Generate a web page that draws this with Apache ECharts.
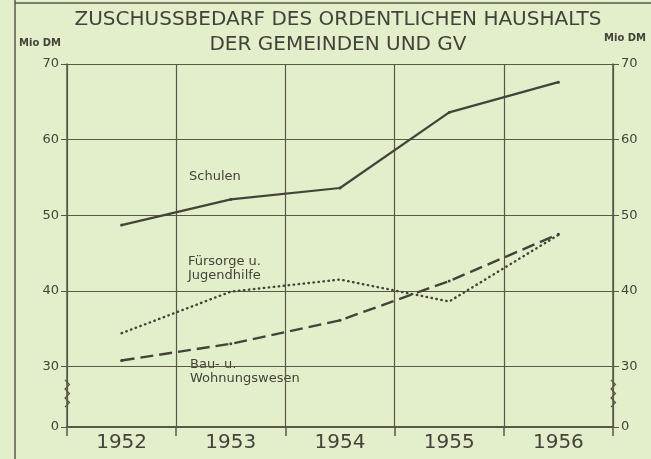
<!DOCTYPE html>
<html>
<head>
<meta charset="utf-8">
<script src="https://cdn.jsdelivr.net/npm/echarts@6/dist/echarts.min.js"></script>
<style>
  html, body { margin: 0; padding: 0; background: #e3eecb; }
  #chart { width: 651px; height: 459px; }
</style>
</head>
<body>
<div id="chart"></div>
<script>
// Jahre und Zuschussbedarf in Mio DM
const years = ['1952', '1953', '1954', '1955', '1956']
const schulen = [48.7, 52.1, 53.6, 63.6, 67.6]
const fuersorge = [34.4, 39.9, 41.5, 38.6, 47.4]
const bau = [30.8, 33.0, 36.1, 41.3, 47.5]
// axis is broken below 30: the "0" tick sits at axis value 22
const yTicks = [22, 30, 40, 50, 60, 70]
const yTickLabels = ['0', '30', '40', '50', '60', '70']

const ink = '#44433b'
const grid = '#585849'
const bg = '#e3eecb'

const chart = echarts.init(document.getElementById('chart'))

const tickLabel = v => {
  const i = yTicks.indexOf(v)
  return i >= 0 ? yTickLabels[i] : ''
}

const yAxisBase = {
  type: 'value',
  min: 22,
  max: 70,
  axisLine: { show: true, lineStyle: { color: grid, width: 1.5 } },
  axisTick: { show: true, length: 6, customValues: yTicks, lineStyle: { color: grid } },
  axisLabel: {
    customValues: yTicks,
    formatter: tickLabel,
    color: ink,
    fontSize: 13,
    fontFamily: 'DejaVu Sans',
    margin: 8
  }
}

// small zigzag for the axis break
const zigzag = x => {
  const pts = []
  for (let i = 0; i <= 6; i++) pts.push([x + (i % 2 ? 2.5 : -2), 380 + i * 4.5])
  return pts
}

chart.setOption({
  backgroundColor: bg,
  animation: false,
  grid: { left: 67, right: 38, top: 64, bottom: 32 },
  xAxis: {
    type: 'category',
    data: years,
    boundaryGap: true,
    axisLine: { lineStyle: { color: grid, width: 2 } },
    axisTick: { show: true, length: 9, lineStyle: { color: grid, width: 1.5 } },
    axisLabel: { color: ink, fontSize: 20, fontFamily: 'DejaVu Sans', margin: 6 },
    splitLine: { show: true, lineStyle: { color: grid, width: 1.2 } }
  },
  yAxis: [
    Object.assign({}, yAxisBase, {
      position: 'left',
      splitLine: { show: true, lineStyle: { color: grid, width: 1.2 } }
    }),
    Object.assign({}, yAxisBase, {
      position: 'right',
      splitLine: { show: false }
    })
  ],
  series: [
    {
      name: 'Schulen',
      type: 'line',
      data: schulen,
      symbol: 'circle',
      symbolSize: 3,
      itemStyle: { color: ink },
      lineStyle: { color: ink, width: 2.2 }
    },
    {
      name: 'Fürsorge u. Jugendhilfe',
      type: 'line',
      data: fuersorge,
      symbol: 'none',
      lineStyle: { color: ink, width: 2.4, type: [0.5, 4.5], cap: 'round' }
    },
    {
      name: 'Bau- u. Wohnungswesen',
      type: 'line',
      data: bau,
      symbol: 'circle',
      symbolSize: 3,
      itemStyle: { color: ink },
      lineStyle: { color: ink, width: 2.4, type: [13, 6] }
    }
  ],
  graphic: [
    { type: 'line', shape: { x1: 15, y1: 0, x2: 15, y2: 459 }, style: { stroke: grid, lineWidth: 1.5 } },
    { type: 'line', shape: { x1: 15, y1: 3, x2: 651, y2: 3 }, style: { stroke: grid, lineWidth: 1.5 } },
    {
      type: 'text', x: 338, y: 7,
      style: {
        text: 'ZUSCHUSSBEDARF DES ORDENTLICHEN HAUSHALTS\nDER GEMEINDEN UND GV',
        fill: ink, font: '20px "DejaVu Sans"', lineHeight: 25, align: 'center'
      }
    },
    { type: 'text', x: 40, y: 38, style: { text: 'Mio DM', fill: ink, font: 'bold 10px "DejaVu Sans"', align: 'center' } },
    { type: 'text', x: 625, y: 33, style: { text: 'Mio DM', fill: ink, font: 'bold 10px "DejaVu Sans"', align: 'center' } },
    { type: 'text', x: 189, y: 170, style: { text: 'Schulen', fill: ink, font: '13px "DejaVu Sans"' } },
    { type: 'text', x: 188, y: 255, style: { text: 'Fürsorge u.\nJugendhilfe', fill: ink, font: '13px "DejaVu Sans"', lineHeight: 14 } },
    {
      type: 'text', x: 186, y: 358,
      style: {
        text: 'Bau- u.\nWohnungswesen', fill: ink, font: '13px "DejaVu Sans"', lineHeight: 14,
        backgroundColor: bg, padding: [0, 6, 0, 4]
      }
    },
    { type: 'rect', shape: { x: 62, y: 376, width: 10, height: 33 }, style: { fill: bg } },
    { type: 'polyline', shape: { points: zigzag(67) }, style: { stroke: grid, lineWidth: 1.2, fill: null } },
    { type: 'rect', shape: { x: 608, y: 376, width: 10, height: 33 }, style: { fill: bg } },
    { type: 'polyline', shape: { points: zigzag(613) }, style: { stroke: grid, lineWidth: 1.2, fill: null } }
  ]
})

window.addEventListener('resize', () => chart.resize())
</script>
</body>
</html>
